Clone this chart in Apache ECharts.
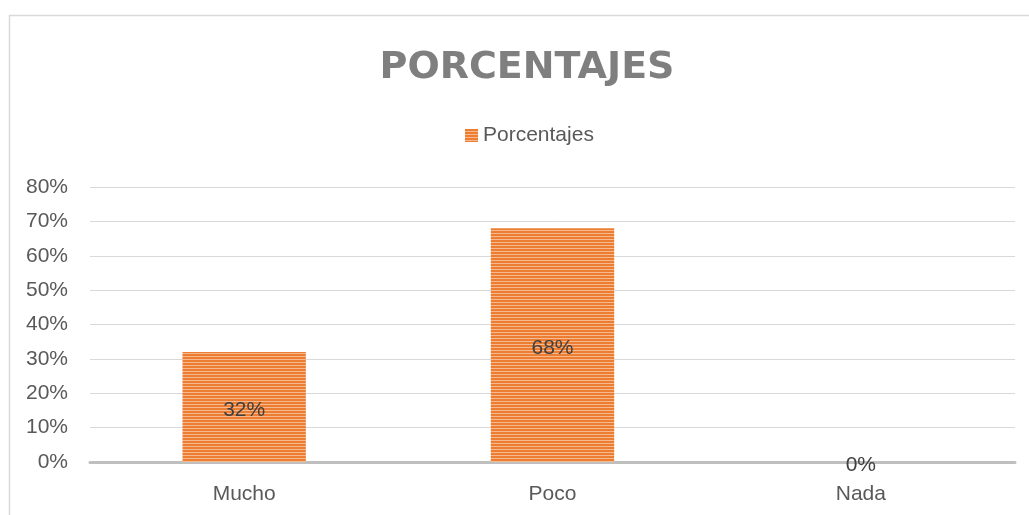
<!DOCTYPE html>
<html>
<head>
<meta charset="utf-8">
<script src="https://cdn.jsdelivr.net/npm/echarts@6/dist/echarts.min.js"></script>
<style>html,body{margin:0;padding:0;background:#fff;}#c{width:1029px;height:515px;}</style>
</head>
<body>
<div id="c"></div>
<script>
const categories = ['Mucho', 'Poco', 'Nada'];
const values = [32, 68, 0];
const seriesName = 'Porcentajes';
const titleText = 'PORCENTAJES';

function makePattern() {
  const cv = document.createElement('canvas');
  cv.width = 4; cv.height = 3;
  const ctx = cv.getContext('2d');
  ctx.fillStyle = '#ED7D31';
  ctx.fillRect(0, 0, 4, 3);
  ctx.fillStyle = '#F6B98F';
  ctx.fillRect(0, 2, 4, 1);
  return cv;
}
const pattern = { image: makePattern(), repeat: 'repeat' };

const chart = echarts.init(document.getElementById('c'), null, { renderer: 'canvas' });
chart.setOption({
  animation: false,
  backgroundColor: '#fff',
  graphic: [{
    type: 'rect', left: 7, top: 13, shape: { width: 1100, height: 600 },
    style: { fill: 'none', stroke: '#D9D9D9', lineWidth: 1.5 }, silent: true, z: -1
  }],
  title: {
    text: titleText, left: 527, textAlign: 'center', top: 49, padding: 0,
    textStyle: { fontFamily: 'DejaVu Sans', fontWeight: 'bold', fontSize: 38, color: '#7F7F7F' }
  },
  legend: {
    top: 125, left: 465, padding: 0, itemWidth: 13, itemHeight: 13, itemGap: 6,
    icon: 'rect',
    textStyle: { fontFamily: 'Liberation Sans', fontSize: 21, color: '#595959' },
    data: [seriesName]
  },
  grid: { left: 90, right: 14, top: 187, bottom: 53, containLabel: false },
  xAxis: {
    type: 'category', data: categories,
    axisLine: { lineStyle: { color: '#BFBFBF', width: 3 } },
    axisTick: { show: false },
    axisLabel: { fontFamily: 'Liberation Sans', fontSize: 21, color: '#595959', margin: 22 }
  },
  yAxis: {
    type: 'value', min: 0, max: 80, interval: 10,
    axisLine: { show: false }, axisTick: { show: false },
    splitLine: { lineStyle: { color: '#D9D9D9', width: 1 } },
    axisLabel: { formatter: '{value}%', fontFamily: 'Liberation Sans', fontSize: 21, color: '#595959', margin: 22 }
  },
  series: [{
    name: seriesName, type: 'bar', data: values, barWidth: '40%',
    itemStyle: { color: pattern },
    label: { show: true, position: 'inside', offset: [0, 3], formatter: '{c}%', fontFamily: 'Liberation Sans', fontSize: 21, color: '#404040' }
  }]
});
</script>
</body>
</html>
